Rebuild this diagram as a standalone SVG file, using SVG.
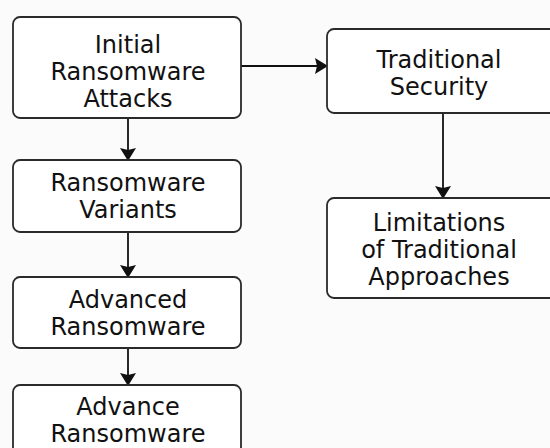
<svg xmlns="http://www.w3.org/2000/svg" width="550" height="448" viewBox="0 0 550 448">
<defs>
<marker id="ah" markerWidth="13" markerHeight="16" refX="12" refY="8" orient="auto" markerUnits="userSpaceOnUse" viewBox="0 0 13 16">
<path d="M0,0 L13,8 L0,16 L2,8 Z" fill="#111"/>
</marker>
</defs>
<style>
.box{fill:#ffffff;stroke:#2a2a2a;stroke-width:1.8}
.t{font-family:"DejaVu Sans",sans-serif;font-size:24px;fill:#111;text-anchor:middle;dominant-baseline:central}
.c{stroke:#111;stroke-width:1.8;fill:none;marker-end:url(#ah)}
</style>
<rect width="550" height="448" fill="#fbfbfb"/>
<g id="connectors">
<line class="c" x1="241" y1="66" x2="327" y2="66"/>
<line class="c" x1="128" y1="118" x2="128" y2="160"/>
<line class="c" x1="128" y1="232" x2="128" y2="277"/>
<line class="c" x1="128" y1="348" x2="128" y2="385"/>
<line class="c" x1="443" y1="113" x2="443" y2="198"/>
</g>
<g id="n1">
<rect class="box" x="13" y="17" width="228" height="101" rx="7"/>
<text class="t" x="128" y="45">Initial</text>
<text class="t" x="128" y="72">Ransomware</text>
<text class="t" x="128" y="99">Attacks</text>
</g>
<g id="n2">
<rect class="box" x="13" y="160" width="228" height="72" rx="7"/>
<text class="t" x="128" y="183">Ransomware</text>
<text class="t" x="128" y="210">Variants</text>
</g>
<g id="n3">
<rect class="box" x="13" y="277" width="228" height="71" rx="7"/>
<text class="t" x="128" y="300">Advanced</text>
<text class="t" x="128" y="327">Ransomware</text>
</g>
<g id="n4">
<rect class="box" x="13" y="385" width="228" height="80" rx="7"/>
<text class="t" x="128" y="407">Advance</text>
<text class="t" x="128" y="434">Ransomware</text>
</g>
<g id="n5">
<rect class="box" x="327" y="29" width="232" height="84" rx="7"/>
<text class="t" x="439" y="60">Traditional</text>
<text class="t" x="439" y="87">Security</text>
</g>
<g id="n6">
<rect class="box" x="327" y="198" width="232" height="100" rx="7"/>
<text class="t" x="439" y="223">Limitations</text>
<text class="t" x="439" y="250">of Traditional</text>
<text class="t" x="439" y="277">Approaches</text>
</g>
</svg>
